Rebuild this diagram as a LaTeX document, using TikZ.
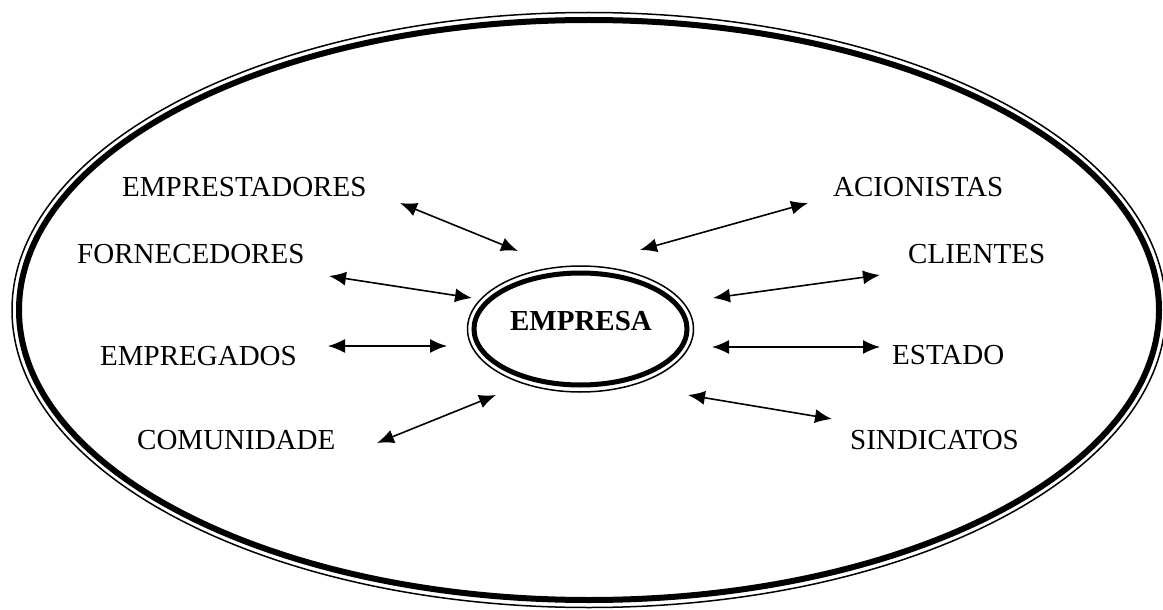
\documentclass[tikz,border=0pt]{standalone}
\usepackage{fontspec}
\setmainfont{Liberation Serif}
\usetikzlibrary{arrows.meta,positioning}

\begin{document}
\begin{tikzpicture}[x=1pt, y=-1pt,
  rotulo/.style={anchor=west, inner sep=0pt, font=\fontsize{29}{34}\selectfont},
  seta/.style={{Latex[length=17pt,width=14pt]}-{Latex[length=17pt,width=14pt]}, line width=1.6pt}]
\useasboundingbox (0,0) rectangle (1163,610);

% Elipse externa (linha grossa por dentro, fina por fora)
\draw[line width=1.5pt] (589,310) ellipse [x radius=577pt, y radius=297.5pt];
\draw[line width=6pt] (589,310) ellipse [x radius=570pt, y radius=290pt];

% Elipse da empresa
\draw[line width=1.5pt] (580.5,329) ellipse [x radius=113pt, y radius=63pt];
\draw[line width=5pt] (580.5,329) ellipse [x radius=106.5pt, y radius=56pt];
\node[font=\fontsize{29}{34}\selectfont\bfseries, inner sep=0pt] (empresa) at (581,321) {EMPRESA};

% Partes interessadas, lado esquerdo
\node[rotulo] (emprestadores) at (122,187) {EMPRESTADORES};
\node[rotulo] (fornecedores) at (77,254) {FORNECEDORES};
\node[rotulo] (empregados) at (100,356) {EMPREGADOS};
\node[rotulo] (comunidade) at (137,440) {COMUNIDADE};

% Partes interessadas, lado direito
\node[rotulo] (acionistas) at (833,187) {ACIONISTAS};
\node[rotulo] (clientes) at (908,254) {CLIENTES};
\node[rotulo] (estado) at (892,355) {ESTADO};
\node[rotulo] (sindicatos) at (850,440) {SINDICATOS};

% Setas duplas
\foreach \n/\p/\q in {emprestadores/{400,203}/{518,251},
                      fornecedores/{329,276}/{472,298},
                      empregados/{328,346}/{447,346},
                      comunidade/{377,443}/{496,395},
                      acionistas/{640,250}/{808,203},
                      clientes/{713,298}/{880,275},
                      estado/{712,347}/{880,347},
                      sindicatos/{688,395}/{832,419}}{
    \coordinate (\n-a) at (\p);
    \coordinate (\n-b) at (\q);
    \draw[seta] (\n-a) -- (\n-b);
}

\end{tikzpicture}
\end{document}
